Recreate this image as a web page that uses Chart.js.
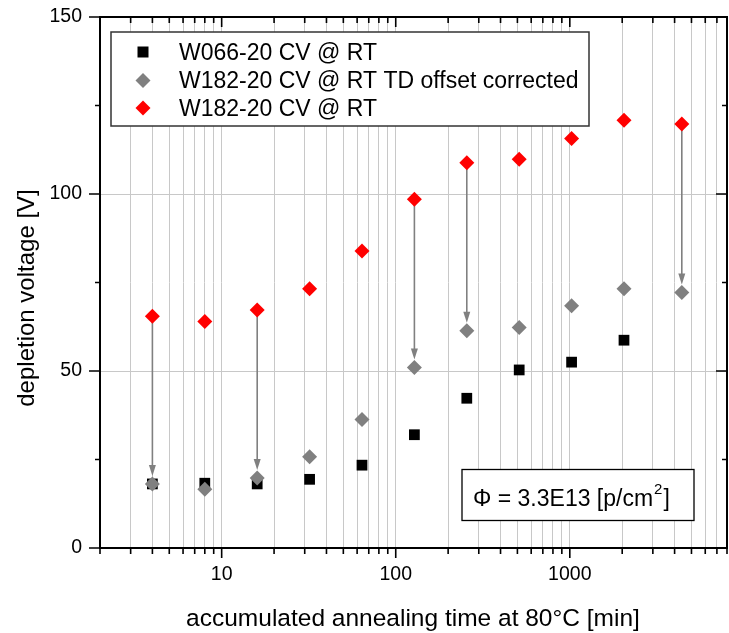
<!DOCTYPE html>
<html><head><meta charset="utf-8">
<script src="https://cdn.jsdelivr.net/npm/chart.js@4.4.0/dist/chart.umd.min.js"></script>
<style>html,body{margin:0;padding:0;background:#fff}</style>
</head><body>
<canvas id="c" width="729" height="633" style="width:729px;height:633px;display:block"></canvas>
<script>
// ---- data ----
const times    = [4, 8, 16, 32, 64, 128, 256, 512, 1024, 2048, 4400];
const w066     = [18.1, 18.3, 18.1, 19.4, 23.4, 32.0, 42.3, 50.3, 52.5, 58.7, null];
const w182corr = [18.1, 16.6, 19.8, 25.8, 36.3, 51.0, 61.4, 62.3, 68.4, 73.2, 72.2];
const w182     = [65.5, 64.0, 67.2, 73.2, 83.9, 98.5, 108.8, 109.8, 115.7, 120.8, 119.8];
const arrowIdx = [0, 2, 5, 6, 10];
const seriesLabels = ['W066-20 CV @ RT', 'W182-20 CV @ RT TD offset corrected', 'W182-20 CV @ RT'];
const xMajorTicks = [10, 100, 1000];
const xRange = [2, 8000];
const yTicks = [0, 25, 50, 75, 100, 125, 150];
const yTickLabels = [0, 50, 100, 150];
const xTitle = 'accumulated annealing time at 80°C [min]';
const yTitle = 'depletion voltage [V]';
const fluenceMain = 'Φ = 3.3E13 [p/cm';
const fluenceSup = '2';

const FONT = '"Liberation Sans", Arial, sans-serif';
const pts = arr => times.map((t, i) => ({x: t, y: arr[i]})).filter(p => p.y !== null);

function xTickValues() {
  const out = [];
  for (let d = 1; d <= 1000; d *= 10)
    for (let m = 1; m <= 9; m++) { const v = m * d; if (v >= xRange[0] && v <= xRange[1]) out.push(v); }
  return out;
}

const decor = {
  id: 'decor',
  beforeDatasetsDraw(chart) {
    const ctx = chart.ctx, xs = chart.scales.x, ys = chart.scales.y;
    ctx.save();
    ctx.strokeStyle = '#808080'; ctx.fillStyle = '#808080'; ctx.lineWidth = 1.6;
    arrowIdx.forEach(i => {
      const x = xs.getPixelForValue(times[i]);
      const y0 = ys.getPixelForValue(w182[i]);
      const y1 = ys.getPixelForValue(w182corr[i]) - 8;
      ctx.beginPath(); ctx.moveTo(x, y0); ctx.lineTo(x, y1 - 9); ctx.stroke();
      ctx.beginPath(); ctx.moveTo(x, y1); ctx.lineTo(x - 3.5, y1 - 11); ctx.lineTo(x + 3.5, y1 - 11); ctx.closePath(); ctx.fill();
    });
    ctx.restore();
  },
  afterDraw(chart) {
    const ctx = chart.ctx, a = chart.chartArea, xs = chart.scales.x, ys = chart.scales.y;
    ctx.save();
    // frame
    ctx.strokeStyle = '#000'; ctx.lineWidth = 2;
    ctx.strokeRect(a.left, a.top, a.right - a.left, a.bottom - a.top);
    // ticks
    ctx.lineWidth = 1.6;
    ctx.beginPath();
    xTickValues().forEach(v => {
      const x = xs.getPixelForValue(v);
      const L = xMajorTicks.includes(v) ? 10 : 6;
      ctx.moveTo(x, a.bottom); ctx.lineTo(x, a.bottom + L);
      ctx.moveTo(x, a.top); ctx.lineTo(x, a.top + L);
    });
    yTicks.forEach(v => {
      const y = ys.getPixelForValue(v);
      const L = yTickLabels.includes(v) ? 11 : 5;
      ctx.moveTo(a.left, y); ctx.lineTo(a.left - L, y);
      ctx.moveTo(a.right, y); ctx.lineTo(a.right - L, y);
    });
    ctx.stroke();
    // axis titles
    ctx.fillStyle = '#000';
    ctx.font = '24.5px ' + FONT;
    ctx.textAlign = 'center'; ctx.textBaseline = 'alphabetic';
    ctx.fillText(xTitle, 413, 626);
    ctx.font = '24px ' + FONT;
    ctx.save();
    ctx.translate(34, 298); ctx.rotate(-Math.PI / 2);
    ctx.fillText(yTitle, 0, 0);
    ctx.restore();
    // legend
    ctx.fillStyle = '#fff';
    ctx.fillRect(111, 32, 478, 94);
    ctx.strokeStyle = '#333'; ctx.lineWidth = 1.5;
    ctx.strokeRect(111, 32, 478, 94);
    const rows = [52, 80.5, 108];
    chart.data.datasets.forEach((ds, i) => {
      const y = rows[i];
      ctx.fillStyle = ds.backgroundColor;
      ctx.beginPath();
      if (ds.pointStyle === 'rect') ctx.rect(143 - 5.5, y - 5.5, 11, 11);
      else { ctx.moveTo(143 - 7.5, y); ctx.lineTo(143, y - 7.5); ctx.lineTo(143 + 7.5, y); ctx.lineTo(143, y + 7.5); ctx.closePath(); }
      ctx.fill();
      ctx.fillStyle = '#000';
      ctx.font = '23px ' + FONT; ctx.textAlign = 'left'; ctx.textBaseline = 'alphabetic';
      ctx.fillText(ds.label, 179, y + 7.5);
    });
    // fluence box
    ctx.fillStyle = '#fff';
    ctx.fillRect(462, 469.5, 232, 51);
    ctx.strokeStyle = '#000'; ctx.lineWidth = 1.3;
    ctx.strokeRect(462, 469.5, 232, 51);
    ctx.fillStyle = '#000';
    ctx.font = '23px ' + FONT; ctx.textAlign = 'left';
    ctx.fillText(fluenceMain, 473, 506);
    let w = ctx.measureText(fluenceMain).width;
    ctx.font = '15px ' + FONT;
    ctx.fillText(fluenceSup, 473 + w + 1, 494);
    const w2 = ctx.measureText(fluenceSup).width;
    ctx.font = '23px ' + FONT;
    ctx.fillText(']', 473 + w + w2 + 2, 506);
    ctx.restore();
  }
};

new Chart(document.getElementById('c'), {
  type: 'scatter',
  data: {
    datasets: [
      {label: seriesLabels[0], data: pts(w066), pointStyle: 'rect', pointRadius: 7.6, backgroundColor: '#000000', borderColor: '#000000', borderWidth: 0, order: 3},
      {label: seriesLabels[1], data: pts(w182corr), pointStyle: 'rectRot', pointRadius: 7.5, backgroundColor: '#808080', borderColor: '#808080', borderWidth: 0, order: 2},
      {label: seriesLabels[2], data: pts(w182), pointStyle: 'rectRot', pointRadius: 7.5, backgroundColor: '#ff0000', borderColor: '#ff0000', borderWidth: 0, order: 1}
    ]
  },
  options: {
    responsive: false,
    animation: false,
    events: [],
    layout: {autoPadding: false, padding: {top: 17, right: 2, left: 0, bottom: 0}},
    plugins: {legend: {display: false}, tooltip: {enabled: false}, title: {display: false}},
    scales: {
      x: {
        type: 'logarithmic', min: xRange[0], max: xRange[1],
        afterFit: s => { s.height = 85; s.paddingLeft = 0; s.paddingRight = 0; },
        afterBuildTicks: s => { s.ticks = xTickValues().map(v => ({value: v, major: xMajorTicks.includes(v)})); },
        grid: {drawTicks: false, color: '#c8c8c8', lineWidth: 1},
        border: {display: false},
        ticks: {autoSkip: false, maxRotation: 0, padding: 15, color: '#000', font: {family: FONT, size: 19.5},
          callback: v => xMajorTicks.includes(v) ? String(v) : ''}
      },
      y: {
        min: 0, max: 150,
        afterFit: s => { s.width = 100; s.paddingTop = 0; s.paddingBottom = 0; },
        afterBuildTicks: s => { s.ticks = yTicks.map(v => ({value: v})); },
        grid: {drawTicks: false, lineWidth: 1, color: c => (c.tick && (c.tick.value === 50 || c.tick.value === 100)) ? '#c8c8c8' : 'rgba(0,0,0,0)'},
        border: {display: false},
        ticks: {autoSkip: false, padding: 18, color: '#000', font: {family: FONT, size: 19.5},
          callback: v => yTickLabels.includes(v) ? String(v) : ''}
      }
    }
  },
  plugins: [decor]
});
</script>
</body></html>
